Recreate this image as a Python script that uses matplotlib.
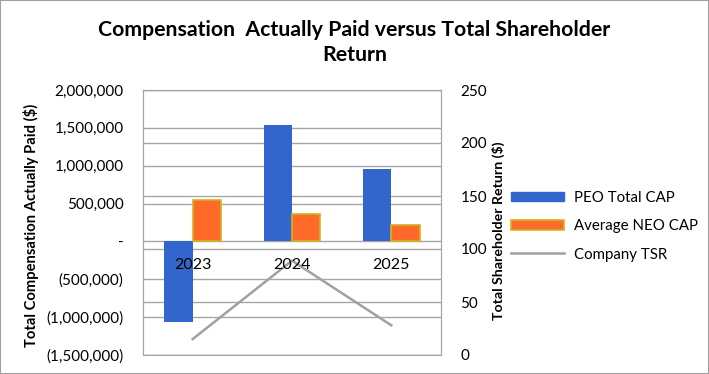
import matplotlib
matplotlib.use("Agg")
import matplotlib.pyplot as plt
from matplotlib.ticker import FuncFormatter, MultipleLocator
from matplotlib.patches import Rectangle, Patch
from matplotlib.lines import Line2D

plt.rcParams["font.family"] = ["Lato", "DejaVu Sans"]

years = ["2023", "2024", "2025"]
peo_cap = [-1068000, 1537000, 956000]
neo_cap = [547000, 362000, 216000]
company_tsr = [15, 89, 28]

BLUE = "#3366CC"
ORANGE = "#FF6A2B"
ORANGE_EDGE = "#D2B41E"
GRAY = "#A0A0A0"
GRID = "#A6A6A6"


def money(v, _pos):
    if abs(v) < 1:
        return "-"
    if v < 0:
        return f"({abs(v):,.0f})"
    return f"{v:,.0f}"


fig = plt.figure(figsize=(7.09, 3.74), dpi=100)
ax = fig.add_axes([143 / 709, 1 - 355 / 374, 298 / 709, 265 / 374])
ax2 = ax.twinx()
ax2.set_zorder(ax.get_zorder() - 1)
ax.patch.set_visible(False)

x = list(range(len(years)))
w = 0.285
ax.bar([i - w / 2 for i in x], peo_cap, width=w, color=BLUE, zorder=2)
ax.bar([i + w / 2 for i in x], neo_cap, width=w, color=ORANGE,
       edgecolor=ORANGE_EDGE, linewidth=1.2, zorder=2)
ax2.plot(x, company_tsr, color=GRAY, linewidth=1.8)

ax.set_xlim(-0.5, 2.5)
ax.set_ylim(-1500000, 2000000)
ax.yaxis.set_major_locator(MultipleLocator(500000))
ax.yaxis.set_major_formatter(FuncFormatter(money))
ax2.set_ylim(0, 250)
ax2.yaxis.set_major_locator(MultipleLocator(50))

# left gridlines drawn under the bars so the year labels can sit on top
for v in ax.get_yticks():
    if -1500000 <= v <= 2000000:
        ax.axhline(v, color=GRID, linewidth=1, zorder=0.5)
ax2.grid(axis="y", color=GRID, linewidth=1)

for a in (ax, ax2):
    a.tick_params(axis="y", length=0, labelsize=11, colors="black", pad=14)
    for s in a.spines.values():
        s.set_color(GRID)

ax.set_xticks(x)
ax.set_xticklabels(years)
ax.tick_params(axis="x", length=0, labelsize=11.5, pad=12)
ax.xaxis.set_zorder(4)
ax.spines["bottom"].set_position(("data", 0))
ax.spines["bottom"].set_color("none")

ax.set_ylabel("Total Compensation Actually Paid ($)", fontsize=10.6, fontweight="bold")
ax.yaxis.set_label_coords(-0.35, 0.49)
ax2.set_ylabel("Total Shareholder Return ($)", fontsize=10.2, fontweight="bold")
ax2.yaxis.set_label_coords(1.17, 0.47)

fig.text(0.5, 1 - 42.5 / 374, "Compensation  Actually Paid versus Total Shareholder\nReturn",
         ha="center", va="center", fontsize=15.3, fontweight="bold", linespacing=1.36)

handles = [
    Patch(facecolor=BLUE, edgecolor=BLUE),
    Patch(facecolor=ORANGE, edgecolor=ORANGE_EDGE, linewidth=1.2),
    Line2D([], [], color=GRAY, linewidth=1.8),
]
labels = ["PEO Total CAP", "Average NEO CAP", "Company TSR"]
fig.legend(handles, labels, loc="center left", bbox_to_anchor=(0.701, 0.395),
           frameon=False, fontsize=10.8, handlelength=3.55, handleheight=0.6,
           labelspacing=0.95, handletextpad=0.7)

fig.add_artist(Rectangle((0, 0), 1, 1, transform=fig.transFigure, fill=False,
                         edgecolor=GRAY, linewidth=1.5))

fig.savefig("out.png", dpi=100)
